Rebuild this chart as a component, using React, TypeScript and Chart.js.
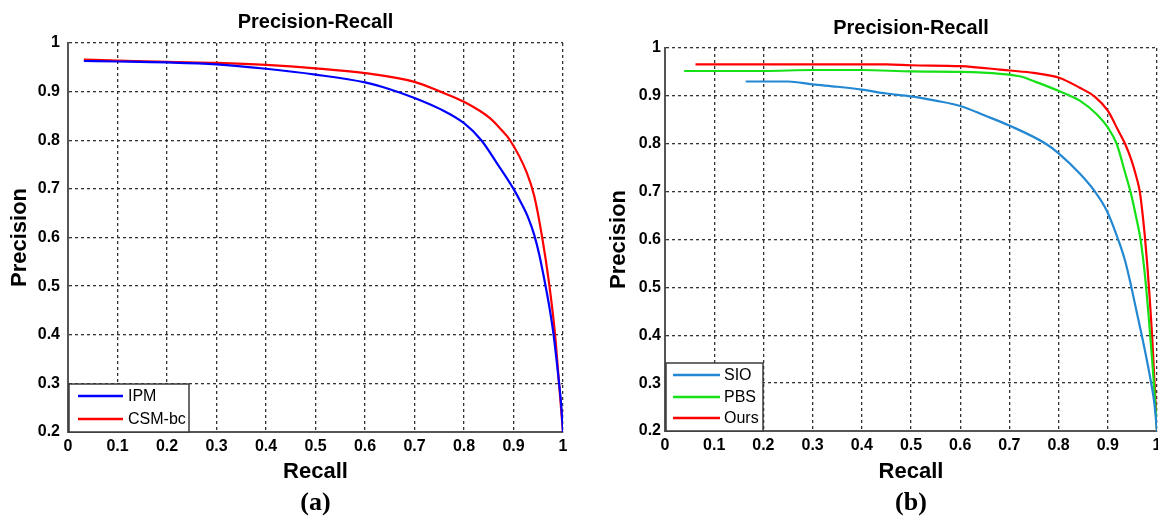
import React, { useEffect, useRef } from "react";
import { Chart, registerables } from "chart.js";

Chart.register(...registerables);

// ---------- Data (a) ----------
const ipmRecall = [0.032, 0.1, 0.2, 0.3, 0.4, 0.5, 0.6, 0.65, 0.7, 0.75, 0.8, 0.835, 0.867, 0.9, 0.915, 0.93, 0.942, 0.952, 0.962, 0.972, 0.981, 0.99, 0.996, 1.0];
const ipmPrecision = [0.963, 0.962, 0.96, 0.956, 0.947, 0.935, 0.919, 0.905, 0.887, 0.865, 0.835, 0.8, 0.752, 0.7, 0.672, 0.64, 0.605, 0.565, 0.515, 0.46, 0.4, 0.32, 0.26, 0.2];

const csmRecall = [0.032, 0.1, 0.2, 0.3, 0.4, 0.5, 0.6, 0.7, 0.752, 0.8, 0.853, 0.875, 0.893, 0.927, 0.942, 0.958, 0.972, 0.984, 0.992, 1.0];
const csmPrecision = [0.966, 0.964, 0.961, 0.959, 0.955, 0.948, 0.938, 0.92, 0.9, 0.879, 0.845, 0.822, 0.8, 0.733, 0.685, 0.6, 0.505, 0.4, 0.3, 0.2];

// ---------- Data (b) ----------
const sioRecall = [0.164, 0.2, 0.25, 0.3, 0.35, 0.4, 0.45, 0.5, 0.55, 0.6, 0.65, 0.7, 0.774, 0.8, 0.843, 0.874, 0.898, 0.921, 0.935, 0.948, 0.958, 0.969, 0.979, 0.989, 0.995, 1.0];
const sioPrecision = [0.93, 0.93, 0.93, 0.924, 0.919, 0.913, 0.905, 0.899, 0.89, 0.879, 0.859, 0.838, 0.8, 0.78, 0.738, 0.7, 0.66, 0.6, 0.556, 0.5, 0.452, 0.4, 0.35, 0.295, 0.255, 0.2];

const pbsRecall = [0.039, 0.2, 0.3, 0.4, 0.5, 0.6, 0.681, 0.725, 0.749, 0.801, 0.843, 0.877, 0.9, 0.918, 0.935, 0.946, 0.958, 0.967, 0.976, 0.983, 0.99, 0.995, 1.0];
const pbsPrecision = [0.952, 0.952, 0.954, 0.954, 0.951, 0.95, 0.946, 0.94, 0.931, 0.91, 0.89, 0.862, 0.834, 0.8, 0.74, 0.7, 0.645, 0.597, 0.52, 0.44, 0.35, 0.28, 0.2];

const oursRecall = [0.062, 0.2, 0.3, 0.4, 0.45, 0.5, 0.6, 0.681, 0.7, 0.749, 0.801, 0.843, 0.874, 0.9, 0.921, 0.935, 0.948, 0.958, 0.965, 0.97, 0.975, 0.98, 0.985, 0.99, 0.995, 1.0];
const oursPrecision = [0.966, 0.966, 0.966, 0.966, 0.966, 0.964, 0.962, 0.955, 0.953, 0.948, 0.938, 0.917, 0.898, 0.869, 0.828, 0.8, 0.766, 0.731, 0.7, 0.66, 0.61, 0.55, 0.48, 0.4, 0.3, 0.2];

const chartTitle = "Precision-Recall";
const xAxisTitle = "Recall";
const yAxisTitle = "Precision";

const toPoints = (xs: number[], ys: number[]) => xs.map((x, i) => ({ x, y: ys[i] }));

const insideLegend = {
  id: "insideLegend",
  afterDatasetsDraw(chart: any, _args: any, opts: any) {
    if (!opts || !opts.display) return;
    const { ctx, chartArea } = chart;
    const left = chartArea.left + opts.offsetX;
    const top = chartArea.bottom - opts.boxHeight;
    ctx.save();
    ctx.fillStyle = "#ffffff";
    ctx.fillRect(left, top, opts.boxWidth, opts.boxHeight);
    ctx.strokeStyle = "#3a3a3a";
    ctx.lineWidth = 1.5;
    ctx.strokeRect(left, top, opts.boxWidth, opts.boxHeight);
    ctx.font = "16px 'Liberation Sans', Arial, sans-serif";
    ctx.textBaseline = "middle";
    ctx.textAlign = "left";
    chart.data.datasets.forEach((ds: any, i: number) => {
      const y = top + opts.rowY[i];
      ctx.strokeStyle = ds.borderColor;
      ctx.lineWidth = 2.5;
      ctx.beginPath();
      ctx.moveTo(left + opts.lineX0, y);
      ctx.lineTo(left + opts.lineX1, y);
      ctx.stroke();
      ctx.fillStyle = "#000";
      ctx.fillText(ds.label, left + opts.textX, y + 1);
    });
    ctx.restore();
  },
};

const tickFmt = (v: any) => {
  const n = Number(v);
  return Number(n.toFixed(1)).toString();
};

function makeConfig(datasets: any[], cfg: any) {
  return {
    type: "line",
    data: { datasets },
    options: {
      animation: false,
      responsive: false,
      devicePixelRatio: 1,
      events: [],
      layout: { padding: { left: 0, right: cfg.padRight, top: 0, bottom: 0 } },
      elements: { point: { radius: 0 }, line: { cubicInterpolationMode: "monotone", borderWidth: 2.2 } },
      plugins: {
        legend: { display: false },
        tooltip: { enabled: false },
        title: {
          display: true,
          text: chartTitle,
          fullSize: false,
          color: "#000",
          font: { family: "'Liberation Sans', Arial, sans-serif", size: 20, weight: "bold", lineHeight: 1.2 },
          padding: { top: cfg.titlePadTop, bottom: cfg.titlePadBottom },
        },
        subtitle: {
          display: true,
          text: cfg.caption,
          position: "bottom",
          fullSize: false,
          color: "#000",
          font: { family: "'Liberation Serif', 'Times New Roman', serif", size: 26, weight: "bold", lineHeight: 1.2 },
          padding: { top: 0, bottom: 1 },
        },
        insideLegend: cfg.legend,
      },
      scales: {
        x: {
          type: "linear",
          min: 0,
          max: 1,
          afterFit(scale: any) {
            scale.height = cfg.xHeight;
            scale.paddingLeft = 0;
            scale.paddingRight = 0;
          },
          ticks: {
            stepSize: 0.1,
            autoSkip: false,
            maxRotation: 0,
            padding: 5,
            color: "#000",
            font: { family: "'Liberation Sans', Arial, sans-serif", size: 16, weight: "bold" },
            callback: tickFmt,
          },
          grid: { color: "#333", lineWidth: 1.3, drawTicks: false },
          border: { display: true, color: "#555", width: 2, dash: [3, 3] },
          title: {
            display: true,
            text: xAxisTitle,
            color: "#000",
            font: { family: "'Liberation Sans', Arial, sans-serif", size: 22, weight: "bold", lineHeight: 1.2 },
            padding: { top: 0, bottom: 2.6 },
          },
        },
        y: {
          type: "linear",
          min: 0.2,
          max: 1,
          afterFit(scale: any) {
            scale.width = cfg.yWidth;
            scale.paddingTop = 0;
            scale.paddingBottom = 0;
          },
          ticks: {
            stepSize: 0.1,
            autoSkip: false,
            padding: cfg.yTickPad,
            color: "#000",
            font: { family: "'Liberation Sans', Arial, sans-serif", size: 16, weight: "bold" },
            callback: tickFmt,
          },
          grid: { color: "#333", lineWidth: 1.3, drawTicks: false },
          border: { display: true, color: "#555", width: 2, dash: [3, 3] },
          title: {
            display: true,
            text: yAxisTitle,
            color: "#000",
            font: { family: "'Liberation Sans', Arial, sans-serif", size: 22, weight: "bold", lineHeight: 1.2 },
            padding: { top: cfg.yTitlePad, bottom: 0 },
          },
        },
      },
    },
    plugins: [insideLegend],
  };
}

function PRChart(props: { datasets: any[]; cfg: any; width: number; height: number; left: number }) {
  const ref = useRef<HTMLCanvasElement>(null);
  useEffect(() => {
    if (!ref.current) return;
    const chart = new Chart(ref.current, makeConfig(props.datasets, props.cfg) as any);
    return () => chart.destroy();
  }, []);
  return (
    <canvas
      ref={ref}
      width={props.width}
      height={props.height}
      style={{ position: "absolute", left: props.left, top: 0, width: props.width, height: props.height }}
    />
  );
}

export default function App() {
  const dsA = [
    { label: "IPM", data: toPoints(ipmRecall, ipmPrecision), borderColor: "#0000ff", fill: false },
    { label: "CSM-bc", data: toPoints(csmRecall, csmPrecision), borderColor: "#ff0000", fill: false },
  ];
  const dsB = [
    { label: "SIO", data: toPoints(sioRecall, sioPrecision), borderColor: "#2388d2", fill: false },
    { label: "PBS", data: toPoints(pbsRecall, pbsPrecision), borderColor: "#16e016", fill: false },
    { label: "Ours", data: toPoints(oursRecall, oursPrecision), borderColor: "#ff0000", fill: false },
  ];
  const cfgA = {
    caption: "(a)",
    padRight: 17,
    titlePadTop: 10,
    titlePadBottom: 9,
    xHeight: 55.8,
    yWidth: 68,
    yTickPad: 8,
    yTitlePad: 6.8,
    legend: { display: true, offsetX: 1, boxWidth: 120, boxHeight: 48, lineX0: 9, lineX1: 54, textX: 59, rowY: [12, 35] },
  };
  const cfgB = {
    caption: "(b)",
    padRight: 1,
    titlePadTop: 16,
    titlePadBottom: 8,
    xHeight: 56.8,
    yWidth: 85,
    yTickPad: 4,
    yTitlePad: 25.8,
    legend: { display: true, offsetX: 1, boxWidth: 97, boxHeight: 68, lineX0: 7, lineX1: 54, textX: 58, rowY: [12, 34, 55] },
  };
  return (
    <div style={{ position: "absolute", left: 0, top: 0, width: 1158, height: 520, background: "#fff", overflow: "hidden" }}>
      <PRChart datasets={dsA} cfg={cfgA} width={580} height={520} left={0} />
      <PRChart datasets={dsB} cfg={cfgB} width={578} height={520} left={580} />
    </div>
  );
}
